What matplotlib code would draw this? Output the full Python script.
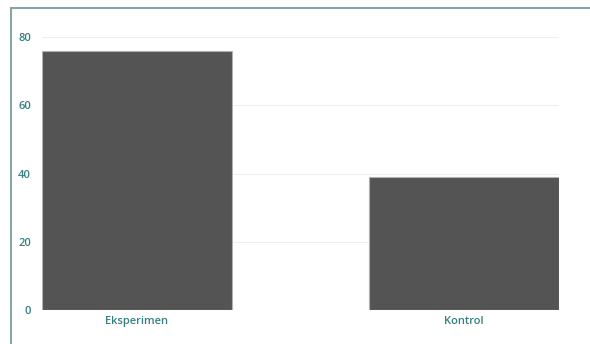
import matplotlib.pyplot as plt
from matplotlib.patches import Rectangle

categories = ['Eksperimen', 'Kontrol']
values = [76, 39]
y_ticks = [0, 20, 40, 60, 80]

teal = '#357f80'

plt.rcParams['font.family'] = ['Open Sans', 'DejaVu Sans']

fig = plt.figure(figsize=(5.9, 3.44), dpi=100)
ax = fig.add_axes([42 / 590, 1 - 310 / 344, 517 / 590, 283 / 344])

ax.bar(range(len(categories)), values, width=0.58, color='#545454',
       edgecolor='#b0b0b0', linewidth=0.8, zorder=3)

ax.set_xlim(-0.29, 1.29)
ax.set_ylim(0, 83)
ax.set_xticks(range(len(categories)))
ax.set_xticklabels(categories)
ax.set_yticks(y_ticks)
ax.yaxis.grid(True, color='#efefef', linewidth=0.8, zorder=0)
ax.tick_params(axis='both', length=0, colors=teal, labelsize=8)
ax.tick_params(axis='y', pad=8)
ax.tick_params(axis='x', pad=4)
for lbl in ax.get_xticklabels() + ax.get_yticklabels():
    lbl.set_fontweight('semibold')
for s in ax.spines.values():
    s.set_visible(False)
ax.axhline(0, color='#efefef', linewidth=0.8, zorder=1)

# outer frame (left and top edges only visible)
fig.patches.append(Rectangle((10.5 / 590, -0.05), 1.0, 1.05 - 8.5 / 344,
                             transform=fig.transFigure, fill=False,
                             edgecolor='#8aa5a5', linewidth=1.5))

fig.savefig('out.png', dpi=100)
